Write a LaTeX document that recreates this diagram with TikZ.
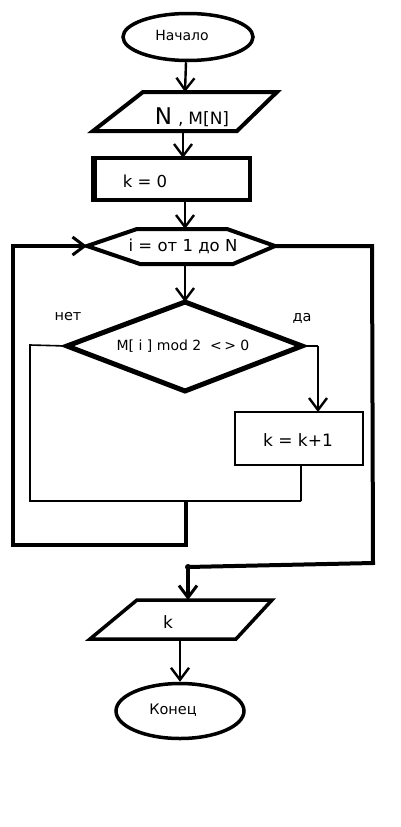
\documentclass[tikz,border=0pt]{standalone}
\usepackage{fontspec}
\setmainfont{DejaVu Sans}
\usetikzlibrary{arrows.meta,shapes.geometric}
\begin{document}
\begin{tikzpicture}[x=1pt,y=-1pt,
  thickline/.style={line width=4pt,line join=miter},
  thinline/.style={line width=1.6pt},
  arr/.style={line width=2.4pt,-{Straight Barb[length=12pt,width=18pt,line width=2.4pt]}},
  bigarr/.style={line width=4pt,-{Straight Barb[length=12pt,width=18pt,line width=3pt]}},
  lbl/.style={inner sep=0pt}]
\useasboundingbox[fill=white] (0,0) rectangle (401,827);
% start
\node[ellipse,draw,line width=3.5pt,minimum width=130pt,minimum height=47pt] (start) at (188,37) {};
\node[lbl,font=\fontsize{14}{16}\selectfont] (starttxt) at (182,35) {Начало};
% input parallelogram
\draw[thickline] (143,92) -- (277,92) -- (237,131) -- (93,131) -- cycle;
\coordinate (p1top) at (185,92);
\coordinate (p1bot) at (183,131);
\node[lbl] (p1txt) at (192,117) {{\fontsize{23}{24}\selectfont N}\fontsize{17}{18}\selectfont\hspace{6pt},\hspace{5pt}M[N]};
% k = 0
\draw[thickline] (93,158) rectangle (250,200);
\draw[line width=6pt] (94,157) -- (94,201);
\coordinate (k0top) at (183,158);
\coordinate (k0bot) at (185,200);
\node[lbl,font=\fontsize{16.5}{18}\selectfont] (k0txt) at (145,181) {k = 0};
% hexagon
\draw[thickline] (137,229) -- (227,229) -- (275,246) -- (233,264) -- (140,264) -- (87,246) -- cycle;
\coordinate (hextop) at (185,229);
\coordinate (hexleft) at (87,246);
\coordinate (hexright) at (275,246);
\coordinate (hexbot) at (185,264);
\node[lbl,font=\fontsize{16.5}{18}\selectfont] (hextxt) at (183,246) {i = от 1 до N};
% diamond
\draw[line width=5pt,line join=miter] (185,302) -- (302,346) -- (185,391) -- (67,346) -- cycle;
\coordinate (dtop) at (185,302);
\coordinate (dleft) at (67,346);
\coordinate (dright) at (302,346);
\node[lbl,font=\fontsize{14}{16}\selectfont] (dtxt) at (183,346) {M[ i ] mod 2\ \ {<}\,{>} 0};
\node[lbl,font=\fontsize{14.5}{16}\selectfont] (net) at (68,317) {нет};
\node[lbl,font=\fontsize{14.5}{16}\selectfont] (da) at (302,318) {да};
% k = k+1
\draw[thinline] (235,412) rectangle (363,465);
\coordinate (k1top) at (318,412);
\coordinate (k1bot) at (301,465);
\node[lbl,font=\fontsize{17}{19}\selectfont] (k1txt) at (298,440) {k = k+1};
% output parallelogram
\draw[line width=3.5pt,line join=miter] (137,600) -- (272,600) -- (236,639) -- (90,639) -- cycle;
\coordinate (p2top) at (188,600);
\coordinate (p2bot) at (180,639);
\node[lbl,font=\fontsize{17}{20}\selectfont] (p2txt) at (168,622) {k};
% end
\node[ellipse,draw,line width=3.5pt,minimum width=128pt,minimum height=55pt] (end) at (180,711) {};
\node[lbl,font=\fontsize{14.5}{16}\selectfont] (endtxt) at (173,710) {Конец};
% connectors
\draw[arr] (start.south) ++(-2,0) coordinate (s0) (s0) -- (p1top);
\draw[arr] (p1bot) -- (k0top);
\draw[arr] (k0bot) -- (hextop);
\draw[arr] (hexbot) -- (dtop);
% yes branch
\coordinate (yr) at (318,346);
\draw[thinline] (dright) -- (yr);
\draw[arr,line width=1.6pt] (yr) -- (k1top);
\coordinate (jr) at (301,501);
\draw[thinline] (k1bot) -- (jr);
% no branch
\coordinate (nl) at (30,345);
\coordinate (jl) at (30,501);
\draw[thinline] (dleft) -- (nl) -- (jl) -- (jr);
% merge and loop back
\coordinate (jm) at (186,500);
\coordinate (lb) at (186,545);
\coordinate (ll) at (13,545);
\coordinate (lt) at (13,246);
\draw[thickline] (jm) -- (lb) -- (ll) -- (lt) -- (80,246);
\draw[bigarr] (70,246) -- (hexleft);
% exit
\coordinate (er) at (372,246);
\coordinate (erb) at (373,563);
\coordinate (ex) at (188,567);
\draw[thickline] (hexright) -- (er) -- (erb) -- (ex);
\fill (ex) circle (3pt);
\draw[bigarr] (ex) -- (p2top);
\draw[arr,line width=1.6pt] (p2bot) -- (end.north);
\end{tikzpicture}
\end{document}
